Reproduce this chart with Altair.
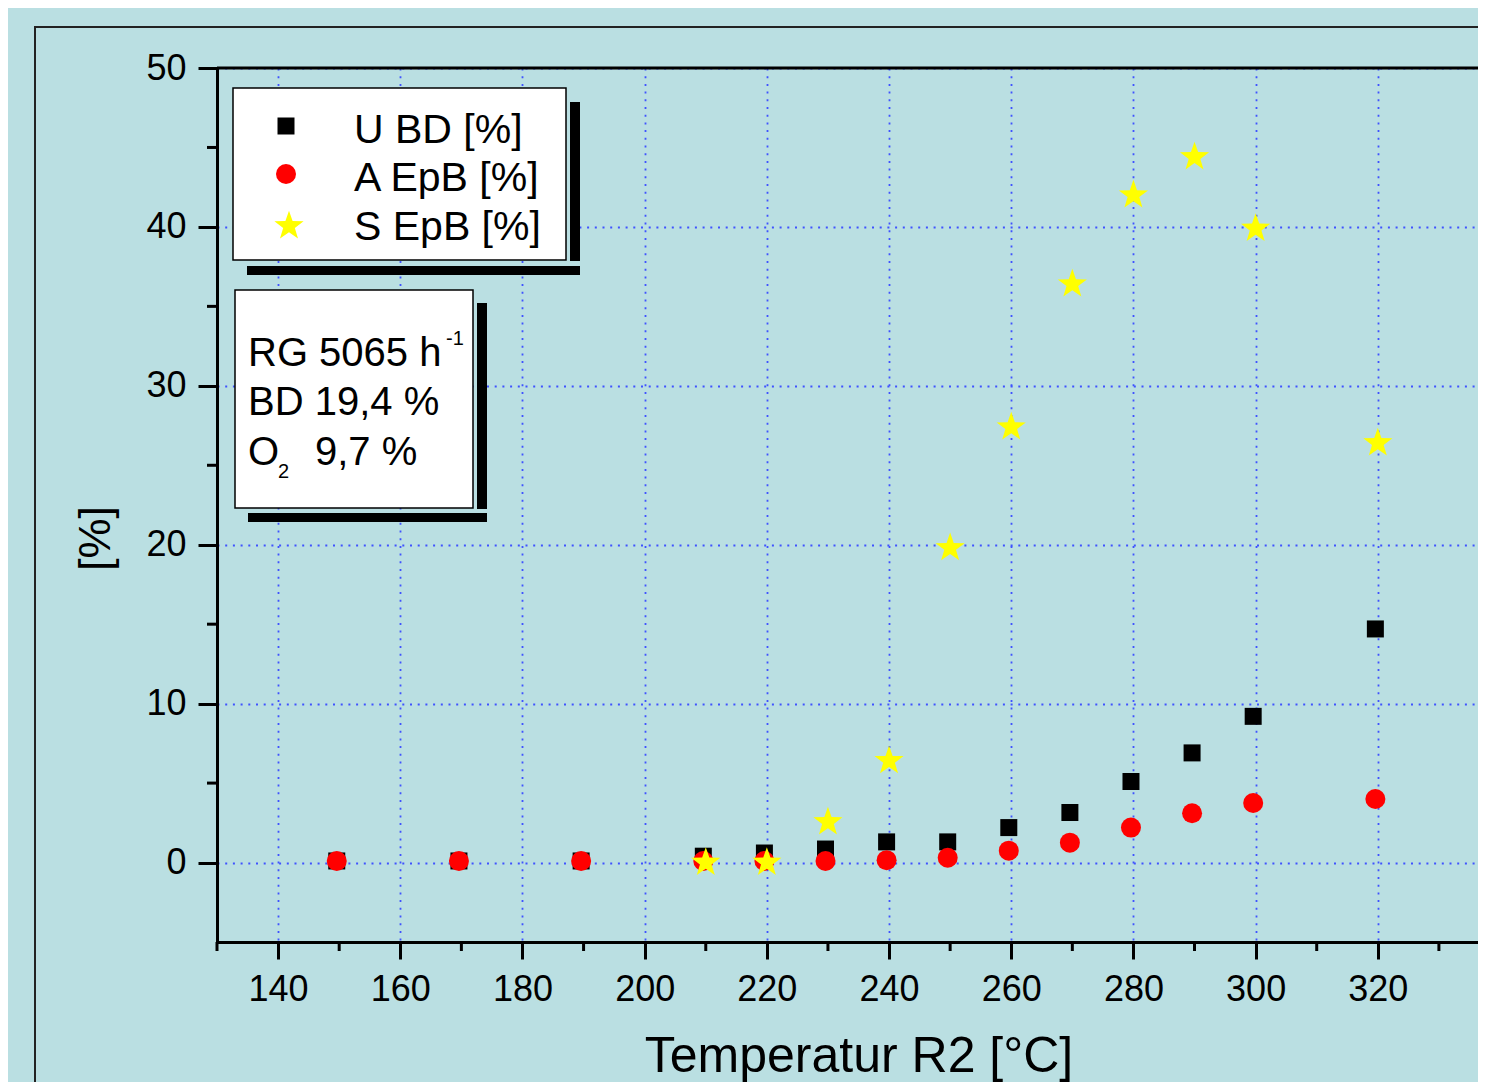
import altair as alt
import pandas as pd

# ---------------- data ----------------
temps_u = [149.6, 169.6, 189.6, 209.6, 219.6, 229.6, 239.6, 249.6, 259.6, 269.6, 279.6, 289.6, 299.6, 319.6]
u_bd = [0.1, 0.1, 0.1, 0.4, 0.6, 0.85, 1.3, 1.3, 2.2, 3.15, 5.1, 6.9, 9.2, 14.7]

temps_a = [149.6, 169.6, 189.6, 209.6, 219.6, 229.6, 239.6, 249.6, 259.6, 269.6, 279.6, 289.6, 299.6, 319.6]
a_epb = [0.1, 0.1, 0.1, 0.1, 0.1, 0.1, 0.15, 0.3, 0.75, 1.25, 2.2, 3.1, 3.75, 4.0]

temps_s = [210, 220, 230, 240, 250, 260, 270, 280, 290, 300, 320]
s_epb = [0.0, 0.0, 2.55, 6.4, 19.8, 27.4, 36.4, 42.0, 44.4, 39.9, 26.4]

series_names = ["U BD [%]", "A EpB [%]", "S EpB [%]"]
info_lines = ["RG 5065 h", "BD 19,4 %", "O", "9,7 %"]

x_major = [140, 160, 180, 200, 220, 240, 260, 280, 300, 320, 340]
x_minor = [130, 150, 170, 190, 210, 230, 250, 270, 290, 310, 330]
y_major = [0, 10, 20, 30, 40, 50]
y_minor = [5, 15, 25, 35, 45]

# ---------------- styling ----------------
PX_PER_UNIT = 1283 / 210.0
W, H = 1261, 874
X_MAX = 130 + W / PX_PER_UNIT          # the reference is cropped at the right edge
BG = "#badfe2"
GRID = "#3f52ff"
FONT = "Liberation Sans"
STAR = ("M0,-1 L0.2351,-0.3236 L0.9511,-0.309 L0.3804,0.1236 L0.5878,0.809 "
        "L0,0.4 L-0.5878,0.809 L-0.3804,0.1236 L-0.9511,-0.309 L-0.2351,-0.3236 Z")

xs = alt.Scale(domain=[130, X_MAX], nice=False, zero=False)
ys = alt.Scale(domain=[-5, 50], nice=False, zero=False)

xaxis = alt.Axis(
    values=x_major, title="Temperatur R2 [°C]", grid=True, gridColor=GRID,
    gridDash=[2, 5.7], gridWidth=1.8, domainWidth=3, domainColor="black",
    tickSize=17, tickWidth=3, tickColor="black", labelFontSize=36,
    labelPadding=13, labelFont=FONT, labelColor="black", labelFlush=False,
    labelOverlap=False, titleFont=FONT, titleFontSize=50, titleFontWeight="normal",
    titleColor="black", titleX=641.5, titleY=129, titleBaseline="alphabetic",
    titleAlign="center",
)
yaxis = alt.Axis(
    values=y_major, title="[%]", grid=True, gridColor=GRID,
    gridDash=[2, 5.7], gridWidth=1.8,
    domainWidth=3, domainColor="black",
    tickSize=19, tickWidth=3, tickColor="black", labelFontSize=36,
    labelPadding=12, labelFont=FONT, labelColor="black", labelFlush=False,
    labelOverlap=False, titleFont=FONT, titleFontSize=45, titleFontWeight="normal",
    titleColor="black", titleX=-108, titleY=470, titleBaseline="alphabetic",
    titleAlign="center", titleAngle=270,
)

df_u = pd.DataFrame({"T": temps_u, "v": u_bd})
df_a = pd.DataFrame({"T": temps_a, "v": a_epb})
df_s = pd.DataFrame({"T": temps_s, "v": s_epb})
one = pd.DataFrame({"k": [0]})

# outer frame of the graph page
frame = alt.Chart(one).mark_rect(fillOpacity=0, stroke="#222222", strokeWidth=2, clip=False).encode(
    x=alt.value(-182), x2=alt.value(1500), y=alt.value(-41), y2=alt.value(1300)
)
top_line = alt.Chart(one).mark_rule(color="black", strokeWidth=3, clip=False).encode(
    x=alt.value(0), x2=alt.value(W + 10), y=alt.value(0)
)

pts_u = alt.Chart(df_u).mark_point(shape="square", filled=True, size=289, color="black", opacity=1).encode(
    x=alt.X("T:Q", scale=xs, axis=xaxis), y=alt.Y("v:Q", scale=ys, axis=yaxis)
)
pts_a = alt.Chart(df_a).mark_point(shape="circle", filled=True, size=400, color="#ff0000", opacity=1).encode(
    x=alt.X("T:Q", scale=xs), y=alt.Y("v:Q", scale=ys)
)
pts_s = alt.Chart(df_s).mark_point(shape=STAR, filled=True, size=940, color="#ffff00", opacity=1).encode(
    x=alt.X("T:Q", scale=xs), y=alt.Y("v:Q", scale=ys)
)

minor_x = alt.Chart(pd.DataFrame({"t": x_minor})).mark_rule(color="black", strokeWidth=3, clip=False).encode(
    x=alt.X("t:Q", scale=xs), y=alt.value(H), y2=alt.value(H + 9)
)
minor_y = alt.Chart(pd.DataFrame({"t": y_minor})).mark_rule(color="black", strokeWidth=3, clip=False).encode(
    y=alt.Y("t:Q", scale=ys), x=alt.value(-10), x2=alt.value(0)
)

def box(x1, x2, y1, y2, fill, stroke=None, sw=0):
    kw = dict(fill=fill, clip=False)
    if stroke:
        kw.update(stroke=stroke, strokeWidth=sw)
    return alt.Chart(one).mark_rect(**kw).encode(
        x=alt.value(x1), x2=alt.value(x2), y=alt.value(y1), y2=alt.value(y2)
    )

def txt(s, x, y, size=41):
    return alt.Chart(one).mark_text(align="left", baseline="alphabetic", font=FONT,
                                    fontSize=size, color="black").encode(
        x=alt.value(x), y=alt.value(y), text=alt.value(s)
    )

# legend box
leg = [
    box(353, 363, 34, 193, "black"),
    box(30, 363, 198, 207, "black"),
    box(16, 349, 20, 192, "white", "black", 1.5),
    alt.Chart(one).mark_point(shape="square", filled=True, size=289, color="black", opacity=1).encode(
        x=alt.value(69), y=alt.value(58)),
    alt.Chart(one).mark_point(shape="circle", filled=True, size=400, color="#ff0000", opacity=1).encode(
        x=alt.value(69), y=alt.value(106)),
    alt.Chart(one).mark_point(shape=STAR, filled=True, size=940, color="#ffff00", opacity=1).encode(
        x=alt.value(72), y=alt.value(158)),
    txt(series_names[0], 137, 75),
    txt(series_names[1], 137, 123),
    txt(series_names[2], 137, 172),
]

# info box
info = [
    box(260, 270, 235, 441, "black"),
    box(31, 270, 445, 454, "black"),
    box(18, 256, 222, 440, "white", "black", 1.5),
    txt(info_lines[0], 31, 298, 40),
    txt("-1", 229, 277, 20),
    txt(info_lines[1], 31, 347, 40),
    txt(info_lines[2], 31, 397, 40),
    txt("2", 61, 410, 20),
    txt(info_lines[3], 98, 397, 40),
]

chart = alt.layer(
    pts_u, frame, top_line, pts_a, pts_s, minor_x, minor_y, *leg, *info
).properties(
    width=W, height=H,
    autosize="none",
    padding={"left": 209, "top": 60, "right": 0, "bottom": 140},
    background=BG,
).configure_view(strokeWidth=0)

chart.save("out.html", embed_options={"renderer": "svg", "actions": False})
